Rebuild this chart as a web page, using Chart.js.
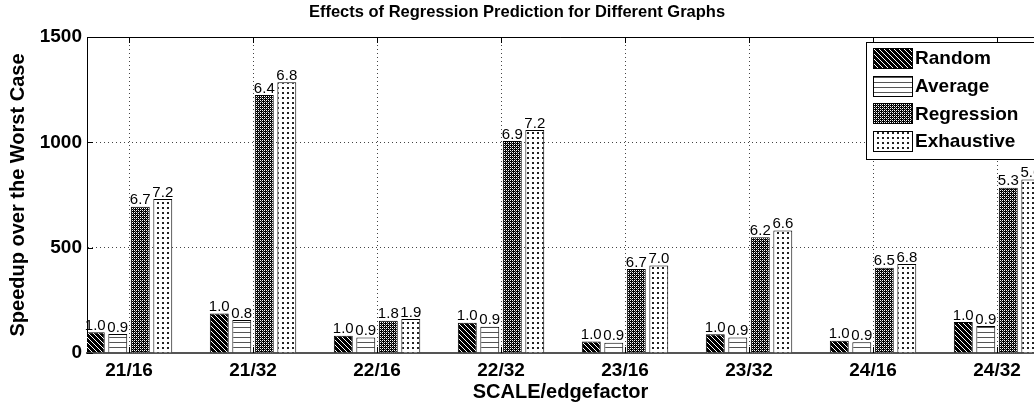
<!DOCTYPE html>
<html>
<head>
<meta charset="utf-8">
<script src="https://cdn.jsdelivr.net/npm/chart.js@4.4.0/dist/chart.umd.min.js"></script>
<style>
  html, body { margin: 0; padding: 0; background: #fff; overflow: hidden; }
  #wrap { width: 1034px; height: 406px; }
</style>
</head>
<body>
<div id="wrap"><canvas id="chart" width="1034" height="406"></canvas></div>
<script>
// datos
const categories = ['21/16', '21/32', '22/16', '22/32', '23/16', '23/32', '24/16', '24/32'];
const seriesNames = ['Random', 'Average', 'Regression', 'Exhaustive'];
const randomVals = [98, 188, 82, 144, 54, 89, 58, 147];
const averageVals = [90, 157, 74, 125, 49, 74, 51, 128];
const regressionVals = [694, 1225, 153, 1006, 399, 549, 405, 785];
const exhaustiveVals = [731, 1285, 161, 1059, 415, 581, 422, 824];
// etiquetas encima de cada barra
const randomLbl = ['1.0', '1.0', '1.0', '1.0', '1.0', '1.0', '1.0', '1.0'];
const averageLbl = ['0.9', '0.8', '0.9', '0.9', '0.9', '0.9', '0.9', '0.9'];
const regressionLbl = ['6.7', '6.4', '1.8', '6.9', '6.7', '6.2', '6.5', '5.3'];
const exhaustiveLbl = ['7.2', '6.8', '1.9', '7.2', '7.0', '6.6', '6.8', '5.6'];
const yTicks = [0, 500, 1000, 1500];

const FONT = "'Liberation Sans', Arial, sans-serif";

// patrones de relleno (tipo matlab)
function makePattern(w, h, draw) {
  const c = document.createElement('canvas');
  c.width = w; c.height = h;
  const g = c.getContext('2d');
  draw(g);
  return g.createPattern(c, 'repeat');
}
const ctx = document.getElementById('chart').getContext('2d');

const patRandom = makePattern(5, 5, g => {
  g.fillStyle = '#000'; g.fillRect(0, 0, 5, 5);
  g.fillStyle = '#fff';
  for (let i = 0; i < 5; i++) g.fillRect(i, i, 1, 1);
});
const patAverage = makePattern(4, 5, g => {
  g.fillStyle = '#fff'; g.fillRect(0, 0, 4, 5);
  g.fillStyle = '#555'; g.fillRect(0, 2, 4, 1);
});
const patRegression = makePattern(4, 4, g => {
  g.fillStyle = '#000'; g.fillRect(0, 0, 4, 4);
  g.fillStyle = '#fff';
  g.fillRect(0, 0, 1, 1); g.fillRect(2, 2, 1, 1);
  g.fillRect(2, 0, 1, 1); g.fillRect(0, 2, 1, 1);
  g.fillStyle = '#777';
  g.fillRect(1, 1, 1, 1); g.fillRect(3, 3, 1, 1);
});
const patExhaustive = makePattern(5, 5, g => {
  g.fillStyle = '#fff'; g.fillRect(0, 0, 5, 5);
  g.fillStyle = '#222'; g.fillRect(2, 2, 2, 2);
});

const patterns = [patRandom, patAverage, patRegression, patExhaustive];
const allVals = [randomVals, averageVals, regressionVals, exhaustiveVals];
const allLbls = [randomLbl, averageLbl, regressionLbl, exhaustiveLbl];

const datasets = seriesNames.map((name, k) => ({
  label: name,
  data: allVals[k].map((v, i) => ({ x: i, y: v })),
  backgroundColor: patterns[k],
  borderColor: '#000',
  borderWidth: 1,
  barPercentage: 0.84,
  categoryPercentage: 0.726,
  valueLabels: allLbls[k]
}));

// etiquetas de valor sobre las barras
const valueLabelPlugin = {
  id: 'valueLabels',
  afterDatasetsDraw(chart) {
    const c = chart.ctx;
    c.save();
    c.font = '15px ' + FONT;
    c.fillStyle = '#000';
    c.textAlign = 'center';
    c.textBaseline = 'bottom';
    chart.data.datasets.forEach((ds, k) => {
      chart.getDatasetMeta(k).data.forEach((bar, i) => {
        c.fillText(ds.valueLabels[i], bar.x, bar.y + 1);
      });
    });
    c.restore();
  }
};

// marco superior, ticks internos y leyenda
const framePlugin = {
  id: 'frame',
  afterDraw(chart) {
    const c = chart.ctx;
    const a = chart.chartArea;
    const xs = chart.scales.x, ys = chart.scales.y;
    c.save();
    c.strokeStyle = '#000';
    c.lineWidth = 1;
    c.beginPath();
    c.moveTo(a.left, a.top + 0.5);
    c.lineTo(a.right, a.top + 0.5);
    categories.forEach((_, i) => {
      const px = Math.round(xs.getPixelForValue(i)) + 0.5;
      c.moveTo(px, a.top); c.lineTo(px, a.top + 6);
      c.moveTo(px, a.bottom); c.lineTo(px, a.bottom - 6);
    });
    yTicks.forEach(v => {
      const py = Math.round(ys.getPixelForValue(v)) + 0.5;
      c.moveTo(a.left, py); c.lineTo(a.left + 6, py);
    });
    c.stroke();

    // leyenda
    const lx = 866, ly = 42;
    c.fillStyle = '#fff';
    c.fillRect(lx, ly, 200, 117);
    c.strokeRect(lx + 0.5, ly + 0.5, 200, 117);
    c.font = 'bold 19px ' + FONT;
    c.textBaseline = 'middle';
    c.textAlign = 'left';
    seriesNames.forEach((name, k) => {
      const sy = 48 + k * 27.7;
      c.fillStyle = patterns[k];
      c.fillRect(873, sy, 39, 20);
      c.strokeStyle = '#000';
      c.strokeRect(873.5, Math.round(sy) + 0.5, 39, 20);
      c.fillStyle = '#000';
      c.fillText(name, 915, sy + 11);
    });
    c.restore();
  }
};

new Chart(ctx, {
  type: 'bar',
  data: { datasets },
  options: {
    responsive: false,
    animation: false,
    layout: { padding: 0 },
    plugins: {
      legend: { display: false },
      tooltip: { enabled: false },
      title: {
        display: true,
        text: 'Effects of Regression Prediction for Different Graphs',
        color: '#000',
        font: { family: FONT, size: 16.5, weight: 'bold' },
        padding: { top: 3, bottom: 14.2 }
      }
    },
    scales: {
      x: {
        type: 'linear',
        min: -0.339,
        max: 7.298,
        offset: false,
        grid: { offset: false, color: '#444', drawTicks: false },
        border: { color: '#555', width: 2, dash: [1, 3] },
        ticks: {
          stepSize: 1,
          includeBounds: false,
          autoSkip: false,
          maxRotation: 0,
          padding: 6,
          color: '#000',
          font: { family: FONT, size: 19, weight: 'bold' },
          callback: v => (Number.isInteger(v) && categories[v]) ? categories[v] : ''
        },
        title: {
          display: true,
          text: 'SCALE/edgefactor',
          color: '#000',
          font: { family: FONT, size: 20, weight: 'bold' },
          padding: { top: 0, bottom: 2 }
        },
        afterFit: s => { s.height = 53; }
      },
      y: {
        min: 0,
        max: 1500,
        grid: { color: '#444', drawTicks: false },
        border: { color: '#000', width: 1, dash: [1, 3] },
        ticks: {
          stepSize: 500,
          padding: 5,
          color: '#000',
          font: { family: FONT, size: 19, weight: 'bold' },
          callback: v => String(v)
        },
        title: {
          display: true,
          text: 'Speedup over the Worst Case',
          color: '#000',
          font: { family: FONT, size: 20, weight: 'bold' },
          padding: { top: 6, bottom: 0 }
        },
        afterFit: s => { s.width = 87; }
      }
    }
  },
  plugins: [valueLabelPlugin, framePlugin]
});
</script>
</body>
</html>
